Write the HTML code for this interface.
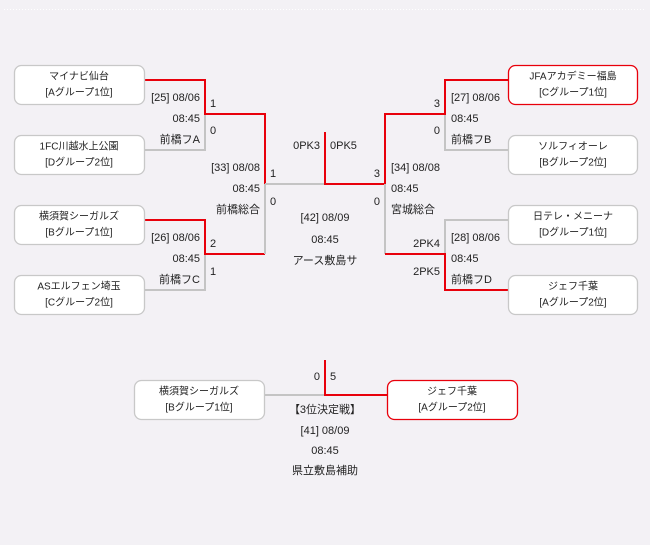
<!DOCTYPE html>
<html><head><meta charset="utf-8"><style>
html,body{margin:0;padding:0;background:#f3f1f5;}
svg{display:block}
text{font-family:"Liberation Sans","Noto Sans CJK JP",sans-serif;font-size:11px;fill:#222;dominant-baseline:middle}
.b{font-size:10px}
</style></head><body>
<svg width="650" height="545" xmlns="http://www.w3.org/2000/svg">
<rect width="650" height="545" fill="#f3f1f5"/>
<line x1="4" y1="9.5" x2="646" y2="9.5" stroke="#fff" stroke-width="1" stroke-dasharray="1,2"/>
<g fill="none" stroke-width="2">
<polyline points="145,150 205,150 205,114" stroke="#c4c4c4"/>
<polyline points="145,80 205,80 205,114 265,114 265,184" stroke="#e8000b"/>
<polyline points="145,290 205,290 205,254" stroke="#c4c4c4"/>
<polyline points="145,220 205,220 205,254 265,254" stroke="#e8000b"/>
<polyline points="265,184 265,254" stroke="#c4c4c4"/>
<polyline points="265,184 325,184" stroke="#c4c4c4"/>
<polyline points="325,132 325,184 385,184" stroke="#e8000b"/>
<polyline points="508,150 445,150 445,114" stroke="#c4c4c4"/>
<polyline points="508,80 445,80 445,114 385,114 385,184" stroke="#e8000b"/>
<polyline points="385,184 385,254" stroke="#c4c4c4"/>
<polyline points="508,220 445,220 445,254" stroke="#c4c4c4"/>
<polyline points="508,290 445,290 445,254 385,254" stroke="#e8000b"/>
<polyline points="265,395 325,395" stroke="#c4c4c4"/>
<polyline points="325,360 325,395 388,395" stroke="#e8000b"/>
</g>
<g stroke-width="1.3">
<rect x="14.5" y="65.5" width="130" height="39" rx="7" fill="#fff" stroke="#c8c8c8"/>
<rect x="14.5" y="135.5" width="130" height="39" rx="7" fill="#fff" stroke="#c8c8c8"/>
<rect x="14.5" y="205.5" width="130" height="39" rx="7" fill="#fff" stroke="#c8c8c8"/>
<rect x="14.5" y="275.5" width="130" height="39" rx="7" fill="#fff" stroke="#c8c8c8"/>
<rect x="508.5" y="65.5" width="129" height="39" rx="7" fill="#fff" stroke="#e8000b"/>
<rect x="508.5" y="135.5" width="129" height="39" rx="7" fill="#fff" stroke="#c8c8c8"/>
<rect x="508.5" y="205.5" width="129" height="39" rx="7" fill="#fff" stroke="#c8c8c8"/>
<rect x="508.5" y="275.5" width="129" height="39" rx="7" fill="#fff" stroke="#c8c8c8"/>
<rect x="134.5" y="380.5" width="130" height="39" rx="7" fill="#fff" stroke="#c8c8c8"/>
<rect x="387.5" y="380.5" width="130" height="39" rx="7" fill="#fff" stroke="#e8000b"/>
</g>
<g text-anchor="middle" class="b">
<text class="b" x="79" y="77">マイナビ仙台</text><text class="b" x="79" y="93">[Aグループ1位]</text>
<text class="b" x="79" y="147">1FC川越水上公園</text><text class="b" x="79" y="163">[Dグループ2位]</text>
<text class="b" x="79" y="217">横須賀シーガルズ</text><text class="b" x="79" y="233">[Bグループ1位]</text>
<text class="b" x="79" y="287">ASエルフェン埼玉</text><text class="b" x="79" y="303">[Cグループ2位]</text>
<text class="b" x="573" y="77">JFAアカデミー福島</text><text class="b" x="573" y="93">[Cグループ1位]</text>
<text class="b" x="573" y="147">ソルフィオーレ</text><text class="b" x="573" y="163">[Bグループ2位]</text>
<text class="b" x="573" y="217">日テレ・メニーナ</text><text class="b" x="573" y="233">[Dグループ1位]</text>
<text class="b" x="573" y="287">ジェフ千葉</text><text class="b" x="573" y="303">[Aグループ2位]</text>
<text class="b" x="199" y="392">横須賀シーガルズ</text><text class="b" x="199" y="408">[Bグループ1位]</text>
<text class="b" x="452" y="392">ジェフ千葉</text><text class="b" x="452" y="408">[Aグループ2位]</text>
</g>
<g text-anchor="end">
<text x="200" y="98">[25] 08/06</text><text x="200" y="119">08:45</text><text x="200" y="140">前橋フA</text>
<text x="200" y="238">[26] 08/06</text><text x="200" y="259">08:45</text><text x="200" y="280">前橋フC</text>
<text x="260" y="168">[33] 08/08</text><text x="260" y="189">08:45</text><text x="260" y="210">前橋総合</text>
<text x="320" y="146">0PK3</text>
<text x="440" y="104">3</text><text x="440" y="131">0</text>
<text x="380" y="174">3</text><text x="380" y="202">0</text>
<text x="440" y="244">2PK4</text><text x="440" y="272">2PK5</text>
<text x="320" y="377">0</text>
</g>
<g>
<text x="210" y="104">1</text><text x="210" y="131">0</text>
<text x="210" y="244">2</text><text x="210" y="272">1</text>
<text x="270" y="174">1</text><text x="270" y="202">0</text>
<text x="330" y="146">0PK5</text>
<text x="451" y="98">[27] 08/06</text><text x="451" y="119">08:45</text><text x="451" y="140">前橋フB</text>
<text x="391" y="168">[34] 08/08</text><text x="391" y="189">08:45</text><text x="391" y="210">宮城総合</text>
<text x="451" y="238">[28] 08/06</text><text x="451" y="259">08:45</text><text x="451" y="280">前橋フD</text>
<text x="330" y="377">5</text>
</g>
<g text-anchor="middle">
<text x="325" y="218">[42] 08/09</text><text x="325" y="240">08:45</text><text x="325" y="261">アース敷島サ</text>
<text x="325" y="410">【3位決定戦】</text><text x="325" y="431">[41] 08/09</text><text x="325" y="451">08:45</text><text x="325" y="471">県立敷島補助</text>
</g>
</svg>
</body></html>
